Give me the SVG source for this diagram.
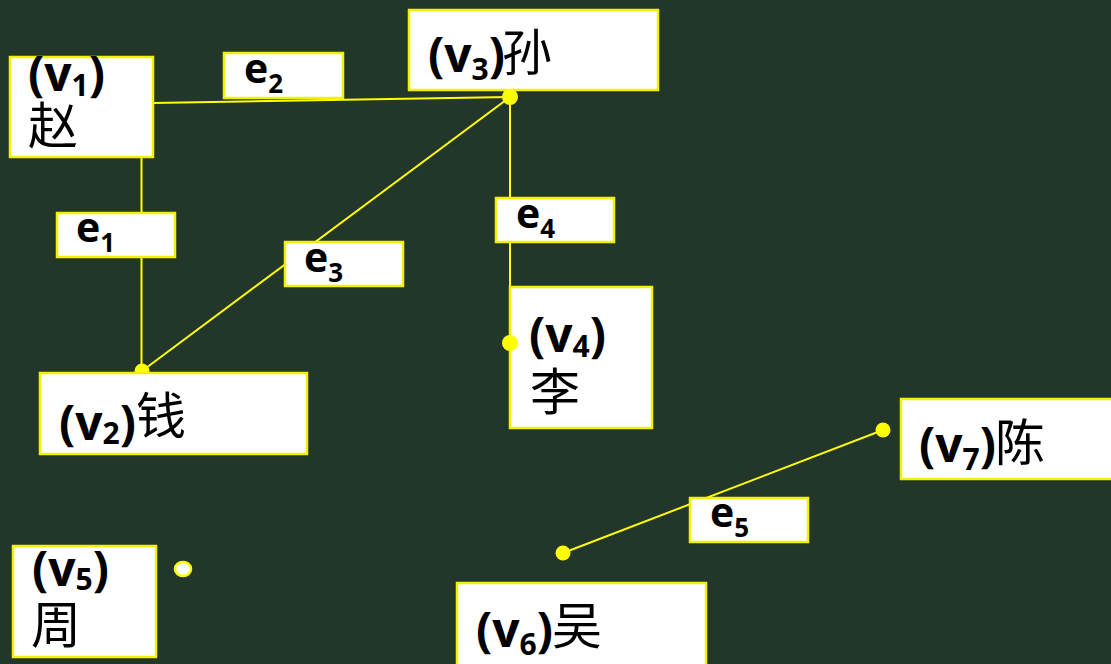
<svg xmlns="http://www.w3.org/2000/svg" width="1111" height="664" viewBox="0 0 1111 664">
<style>
.bg{fill:#23362a}
.box{fill:#ffffff;stroke:#f2f200;stroke-width:2.5}
.edge{stroke:#ffff00;stroke-width:2;fill:none}
.dot{fill:#ffff00}
.odot{fill:#ffffff;stroke:#ffff00;stroke-width:2.5}
.lv{font-family:"Open Sans","Liberation Sans",sans-serif;font-weight:bold;font-size:48px;fill:#000}
.le{font-family:"Open Sans","Liberation Sans",sans-serif;font-weight:bold;font-size:41px;fill:#000}
.sv{font-size:30px}
.se{font-size:26px}
.cn{font-family:"Noto Sans CJK SC",sans-serif;font-size:50px;fill:#000}
</style>
<rect class="bg" x="0" y="0" width="1111" height="664"/>
<g id="connectors">
<line class="edge" x1="153" y1="103" x2="510" y2="97"/>
<line class="edge" x1="510" y1="97" x2="142" y2="371"/>
<line class="edge" x1="510" y1="97" x2="510" y2="287"/>
<line class="edge" x1="141.5" y1="157" x2="141.5" y2="372"/>
<line class="edge" x1="563" y1="553" x2="883" y2="430"/>
<circle class="dot" cx="142" cy="371" r="7.5"/>
</g>
<g id="e1"><rect class="box" x="57" y="213" width="118" height="44"/><text class="le" x="76" y="242">e<tspan class="se" dy="10">1</tspan></text></g>
<g id="e2"><rect class="box" x="224" y="53" width="119" height="45"/><text class="le" x="244" y="83">e<tspan class="se" dy="10">2</tspan></text></g>
<g id="e3"><rect class="box" x="285" y="242" width="118" height="44"/><text class="le" x="304" y="272">e<tspan class="se" dy="10">3</tspan></text></g>
<g id="e4"><rect class="box" x="496" y="198" width="118" height="44"/><text class="le" x="516" y="228">e<tspan class="se" dy="10">4</tspan></text></g>
<g id="e5"><rect class="box" x="690" y="498" width="118" height="44"/><text class="le" x="710" y="527">e<tspan class="se" dy="10">5</tspan></text></g>
<g id="v1"><rect class="box" x="10" y="57" width="143" height="100"/><text class="lv" x="28" y="91">(v<tspan class="sv" dy="5">1</tspan><tspan dy="-5">)</tspan></text><text class="cn" x="28" y="144">赵</text></g>
<g id="v3"><rect class="box" x="409" y="10" width="249" height="80"/><text class="lv" x="428" y="72">(v<tspan class="sv" dy="8">3</tspan><tspan dy="-8">)</tspan></text><text class="cn" x="502" y="71">孙</text><circle class="dot" cx="510" cy="97" r="8"/></g>
<g id="v4"><rect class="box" x="510" y="287" width="142" height="141"/><text class="lv" x="529" y="352">(v<tspan class="sv" dy="5">4</tspan><tspan dy="-5">)</tspan></text><text class="cn" x="530" y="410">李</text><circle class="dot" cx="510" cy="343" r="8"/></g>
<g id="v2"><rect class="box" x="40" y="373" width="267" height="81"/><text class="lv" x="59" y="440">(v<tspan class="sv" dy="4">2</tspan><tspan dy="-4">)</tspan></text><text class="cn" x="136" y="434">钱</text></g>
<g id="v5"><rect class="box" x="13" y="546" width="143" height="111"/><text class="lv" x="32" y="586">(v<tspan class="sv" dy="4">5</tspan><tspan dy="-4">)</tspan></text><text class="cn" x="31" y="643">周</text><ellipse class="odot" cx="183" cy="569" rx="8" ry="7"/></g>
<g id="v6"><rect class="box" x="457" y="583" width="249" height="90"/><text class="lv" x="476" y="647">(v<tspan class="sv" dy="8">6</tspan><tspan dy="-8">)</tspan></text><text class="cn" x="552" y="644">吴</text><circle class="dot" cx="563" cy="553" r="7.5"/></g>
<g id="v7"><rect class="box" x="901" y="399" width="212" height="80"/><text class="lv" x="919" y="462">(v<tspan class="sv" dy="8">7</tspan><tspan dy="-8">)</tspan></text><text class="cn" x="995" y="461">陈</text><circle class="dot" cx="883" cy="430" r="7.5"/></g>
</svg>
